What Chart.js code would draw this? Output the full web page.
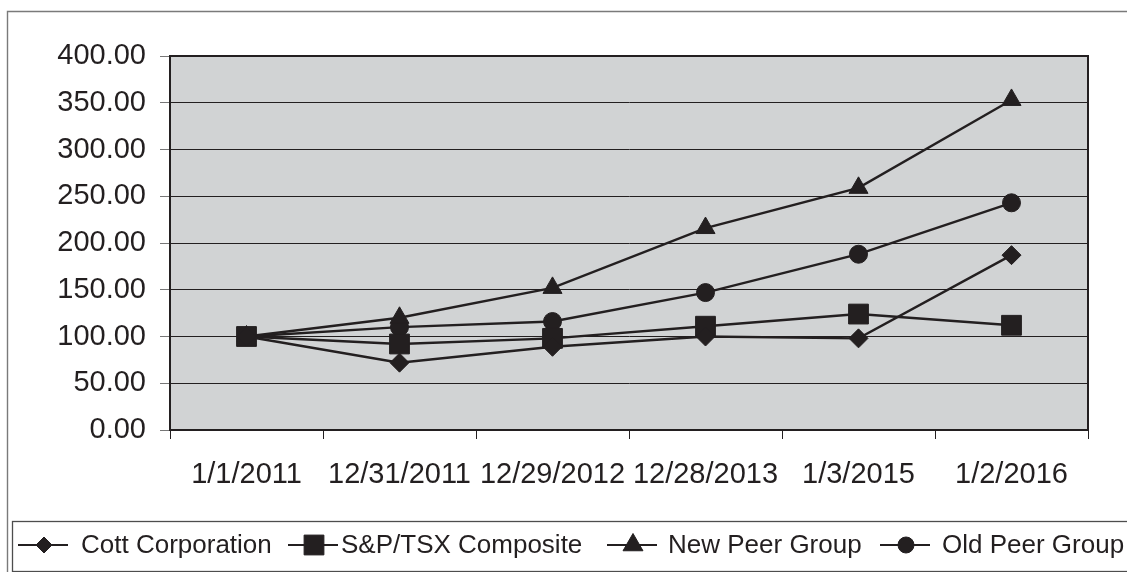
<!DOCTYPE html>
<html>
<head>
<meta charset="utf-8">
<script src="https://cdn.jsdelivr.net/npm/chart.js@4.4.1/dist/chart.umd.min.js"></script>
<style>
  html, body { margin: 0; padding: 0; background: #fff; }
  #chart { display: block; }
</style>
</head>
<body>
<canvas id="chart" width="1127" height="572"></canvas>
<script>
// total return index, base 100 on 1/1/2011
const dates = ['1/1/2011', '12/31/2011', '12/29/2012', '12/28/2013', '1/3/2015', '1/2/2016'];
const cott = [100, 72, 89, 100, 98, 187];
const spTsx = [100, 92, 98, 111, 124, 112];
const newPeers = [100, 120, 152, 216, 259, 353];
const oldPeers = [100, 110, 116, 147, 188, 243];

const FONT = "'Liberation Sans', Arial, Helvetica, sans-serif";
const INK = '#231f20';

const series = [
    { label: 'Cott Corporation', data: cott, pointStyle: 'rectRot', radius: 9.5, legendRadius: 8 },
    { label: 'S&P/TSX Composite', data: spTsx, pointStyle: 'rect', radius: 14, legendRadius: 14 },
    { label: 'New Peer Group', data: newPeers, pointStyle: 'triangle', radius: 11, legendRadius: 11.5 },
    { label: 'Old Peer Group', data: oldPeers, pointStyle: 'circle', radius: 9, legendRadius: 8 },
];

// legend entry placement (line start, text start) as in the original sheet
const legendLineX = [18, 288, 607, 880];
const legendTextX = [81, 341, 668, 942];

const framePlugin = {
    id: 'frame',
    beforeDraw(chart) {
        const ctx = chart.ctx;
        const { left, top, right, bottom } = chart.chartArea;
        ctx.save();
        ctx.fillStyle = '#fff';
        ctx.fillRect(0, 0, chart.width, chart.height);
        // outer border (left + top only visible)
        ctx.strokeStyle = '#7a7a7a';
        ctx.lineWidth = 1.4;
        ctx.beginPath();
        ctx.moveTo(7.5, chart.height + 2);
        ctx.lineTo(7.5, 11.5);
        ctx.lineTo(chart.width + 2, 11.5);
        ctx.stroke();
        // plot background
        ctx.fillStyle = '#d1d3d4';
        ctx.fillRect(left, top, right - left, bottom - top);
        ctx.restore();
    },
    beforeDatasetsDraw(chart) {
        const ctx = chart.ctx;
        const { left, top, right, bottom } = chart.chartArea;
        ctx.save();
        ctx.strokeStyle = INK;
        ctx.lineWidth = 2;
        ctx.beginPath();
        ctx.moveTo(left, top);
        ctx.lineTo(right, top);
        ctx.lineTo(right, bottom);
        ctx.stroke();
        ctx.restore();
    }
};

const legendPlugin = {
    id: 'boxLegend',
    afterDraw(chart) {
        const ctx = chart.ctx;
        ctx.save();
        ctx.strokeStyle = '#4d4d4d';
        ctx.lineWidth = 1.3;
        ctx.strokeRect(12.5, 521.5, chart.width + 10, 50);

        ctx.font = '26px ' + FONT;
        ctx.textBaseline = 'middle';
        ctx.textAlign = 'left';
        const y = 545;
        series.forEach((s, i) => {
            const x = legendLineX[i];
            ctx.strokeStyle = INK;
            ctx.fillStyle = INK;
            ctx.lineWidth = 2;
            ctx.beginPath();
            ctx.moveTo(x, y);
            ctx.lineTo(x + 50, y);
            ctx.stroke();
            ctx.lineWidth = 1;
            Chart.helpers.drawPoint(ctx, { pointStyle: s.pointStyle, radius: s.legendRadius, rotation: 0, borderWidth: 1 }, x + 26, y);
            ctx.fillStyle = INK;
            ctx.fillText(s.label, legendTextX[i], y + 1);
        });
        ctx.restore();
    }
};

new Chart(document.getElementById('chart'), {
    type: 'line',
    data: {
        labels: dates,
        datasets: series.map(s => ({
            label: s.label,
            data: s.data,
            borderColor: INK,
            borderWidth: 2.4,
            backgroundColor: INK,
            pointStyle: s.pointStyle,
            pointRadius: s.radius,
            pointBackgroundColor: INK,
            pointBorderColor: INK,
            pointBorderWidth: 1,
            tension: 0,
            fill: false,
        })),
    },
    options: {
        responsive: false,
        animation: false,
        devicePixelRatio: 1,
        layout: { padding: { left: 0, top: 56, right: 39, bottom: 0 } },
        plugins: {
            legend: { display: false },
            tooltip: { enabled: false },
        },
        scales: {
            x: {
                offset: true,
                grid: {
                    offset: true,
                    drawOnChartArea: false,
                    drawTicks: true,
                    tickLength: 9,
                    tickColor: INK,
                    lineWidth: 1,
                },
                border: { color: INK, width: 2 },
                ticks: {
                    color: INK,
                    font: { family: FONT, size: 29 },
                    padding: 19,
                    maxRotation: 0,
                    autoSkip: false,
                },
                afterFit(scale) { scale.height = 142; },
            },
            y: {
                min: 0,
                max: 400,
                grid: {
                    color: INK,
                    lineWidth: 1,
                    tickLength: 10,
                    tickColor: '#777',
                },
                border: { color: INK, width: 2 },
                ticks: {
                    stepSize: 50,
                    color: INK,
                    padding: 14,
                    font: { family: FONT, size: 29 },
                    callback: v => v.toFixed(2),
                },
                afterFit(scale) { scale.width = 170; },
            },
        },
    },
    plugins: [framePlugin, legendPlugin],
});
</script>
</body>
</html>
